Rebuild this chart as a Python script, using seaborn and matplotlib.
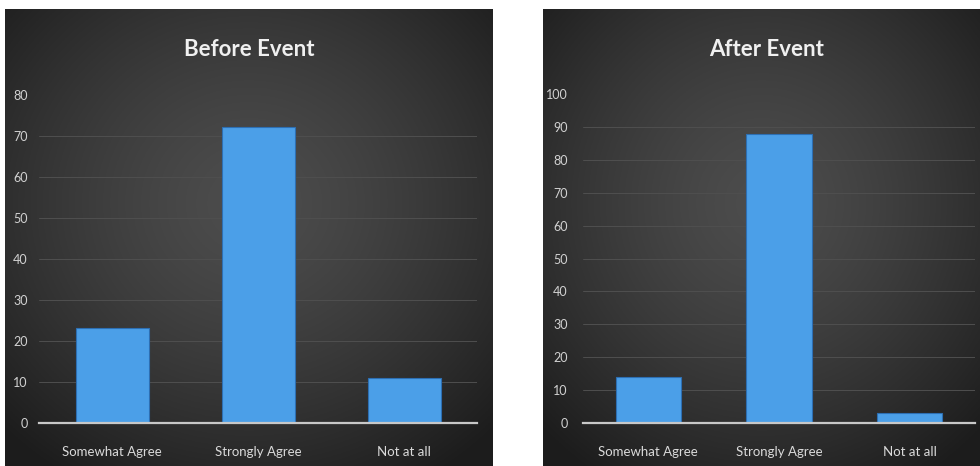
import numpy as np
import pandas as pd
import matplotlib
matplotlib.use("Agg")
import matplotlib.pyplot as plt
import seaborn as sns

categories = ["Somewhat Agree", "Strongly Agree", "Not at all"]
before_values = [23, 72, 11]
after_values = [14, 88, 3]
before_ticks = [0, 10, 20, 30, 40, 50, 60, 70, 80]
after_ticks = [0, 10, 20, 30, 40, 50, 60, 70, 80, 90, 100]

sns.set_theme(style="dark")
plt.rcParams["font.family"] = ["Lato", "DejaVu Sans"]

W, H = 980, 466
fig = plt.figure(figsize=(W / 100, H / 100), dpi=100)
fig.patch.set_facecolor("white")


def px_rect(x0, y0, x1, y1):
    return [x0 / W, 1 - y1 / H, (x1 - x0) / W, (y1 - y0) / H]


def panel_background(x0, y0, x1, y1):
    bg = fig.add_axes(px_rect(x0, y0, x1, y1), zorder=0)
    nx, ny = 300, 300
    xx, yy = np.meshgrid(np.linspace(-1, 1, nx), np.linspace(-1, 1, ny))
    r = np.sqrt((xx * 0.95) ** 2 + ((yy + 0.15) * 0.95) ** 2)
    t = np.clip(r / 1.35, 0, 1)
    light = np.array([0.30, 0.30, 0.30])
    dark = np.array([0.11, 0.11, 0.11])
    img = light[None, None, :] * (1 - t[..., None] ** 1.4) + dark[None, None, :] * (t[..., None] ** 1.4)
    bg.imshow(img, aspect="auto", extent=[0, 1, 0, 1])
    bg.set_axis_off()


def bar_panel(rect, values, ticks, title, title_xy, ypad):
    ax = fig.add_axes(rect, zorder=2)
    ax.set_facecolor("none")
    df = pd.DataFrame({"category": categories, "value": values})
    sns.barplot(data=df, x="category", y="value", ax=ax, width=0.5,
                color="#4b9fe8", edgecolor="#2d6fb3", linewidth=0.8,
                saturation=1, zorder=3)
    ax.set_xlim(-0.5, 2.5)
    ax.set_ylim(0, ticks[-1])
    ax.set_yticks(ticks)
    ax.set_yticklabels([str(t) for t in ticks], color="#d2d2d2", fontsize=9)
    ax.set_xticks(range(len(categories)))
    ax.set_xticklabels(categories, color="#dadada", fontsize=9.5)
    ax.tick_params(axis="y", length=0, pad=ypad)
    ax.tick_params(axis="x", length=0, pad=17)
    ax.set_xlabel("")
    ax.set_ylabel("")
    ax.grid(axis="y", color="#4f4f4f", linewidth=0.7, zorder=1)
    ax.grid(axis="x", visible=False)
    # the top value gets a label but no gridline
    ax.yaxis.get_gridlines()[-1].set_visible(False)
    for side in ["top", "right", "left"]:
        ax.spines[side].set_visible(False)
    ax.spines["bottom"].set_color("#c8c8c8")
    ax.spines["bottom"].set_linewidth(1.6)
    ax.spines["bottom"].set_zorder(4)
    fig.text(title_xy[0] / W, 1 - title_xy[1] / H, title, ha="center", va="center",
             color="#f0f0f0", fontsize=16, fontweight="bold")
    return ax


panel_background(5, 9, 493, 466)
panel_background(543, 9, 980, 466)

bar_panel(px_rect(39, 94.5, 477, 422.7), before_values, before_ticks,
          "Before Event", (249, 49), 8)
bar_panel(px_rect(583, 94.3, 975, 422.7), after_values, after_ticks,
          "After Event", (767, 49), 11)

fig.savefig("out.png", dpi=100, facecolor=fig.get_facecolor())
